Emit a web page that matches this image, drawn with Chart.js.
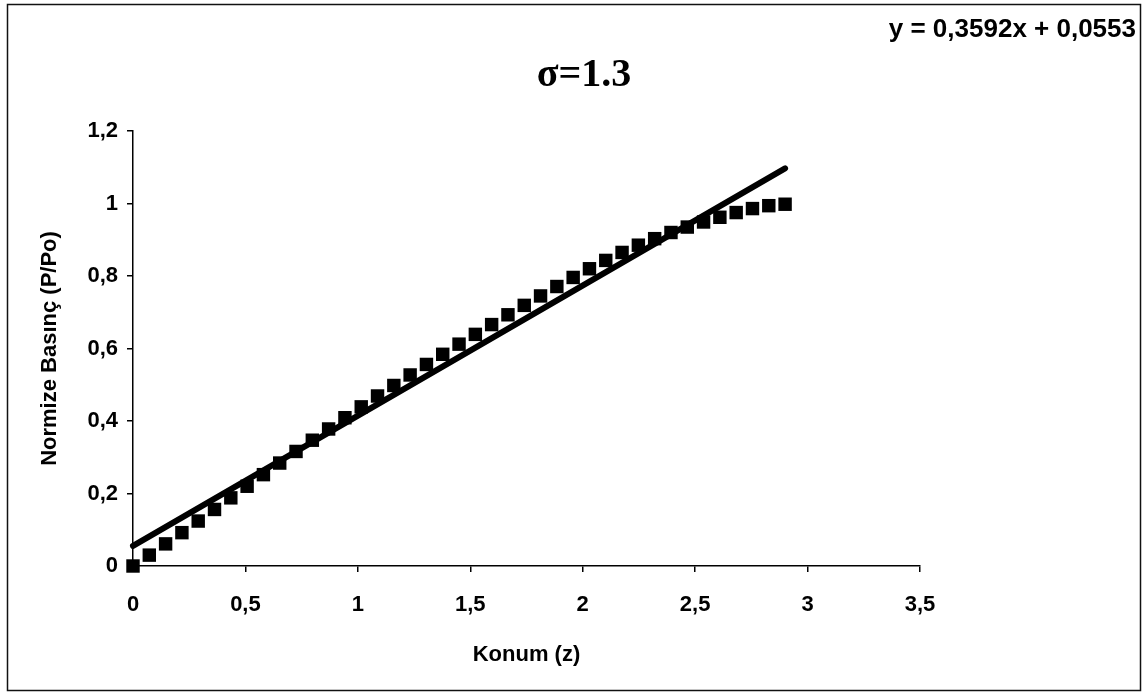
<!DOCTYPE html>
<html>
<head>
<meta charset="utf-8">
<script src="https://cdn.jsdelivr.net/npm/chart.js@4.4.1/dist/chart.umd.min.js"></script>
<style>
  html, body { margin: 0; padding: 0; background: #fff; }
  #wrap { width: 1147px; height: 698px; position: relative; }
</style>
</head>
<body>
<div id="wrap"><canvas id="c" width="1147" height="698"></canvas></div>
<script>
// ---- data ----
const chartTitle = 'σ=1.3';
const xAxisTitle = 'Konum (z)';
const yAxisTitle = 'Normize Basınç (P/Po)';
const konum = [0, 0.0725, 0.145, 0.2175, 0.29, 0.3625, 0.435, 0.5075, 0.58, 0.6525,
  0.725, 0.7975, 0.87, 0.9425, 1.015, 1.0875, 1.16, 1.2325, 1.305, 1.3775,
  1.45, 1.5225, 1.595, 1.6675, 1.74, 1.8125, 1.885, 1.9575, 2.03, 2.1025,
  2.175, 2.2475, 2.32, 2.3925, 2.465, 2.5375, 2.61, 2.6825, 2.755, 2.8275, 2.9];
const basinc = [0, 0.030, 0.061, 0.092, 0.124, 0.156, 0.188, 0.220, 0.252, 0.284,
  0.316, 0.347, 0.378, 0.409, 0.439, 0.469, 0.498, 0.527, 0.556, 0.584,
  0.612, 0.639, 0.666, 0.693, 0.719, 0.745, 0.771, 0.796, 0.820, 0.843,
  0.865, 0.885, 0.903, 0.920, 0.935, 0.949, 0.962, 0.975, 0.986, 0.994, 0.998];
const trendSlope = 0.3592;
const trendIntercept = 0.0553;
const trendRange = [0, 2.9];
const trendLabel = 'y = 0,3592x + 0,0553';
const xTickLabels = ['0', '0,5', '1', '1,5', '2', '2,5', '3', '3,5'];
const yTickLabels = ['0', '0,2', '0,4', '0,6', '0,8', '1', '1,2'];

const points = konum.map((x, i) => ({ x: x, y: basinc[i] }));
const trend = trendRange.map(x => ({ x: x, y: trendSlope * x + trendIntercept }));

const SANS = '"Liberation Sans", Arial, sans-serif';

const decor = {
  id: 'decor',
  beforeDraw(chart) {
    const ctx = chart.ctx;
    ctx.save();
    ctx.fillStyle = '#fff';
    ctx.fillRect(0, 0, chart.width, chart.height);
    ctx.strokeStyle = '#111';
    ctx.lineWidth = 1.5;
    ctx.strokeRect(7.5, 4.5, 1133, 686);
    ctx.restore();
  },
  afterDraw(chart) {
    const ctx = chart.ctx;
    ctx.save();
    ctx.fillStyle = '#000';
    ctx.textBaseline = 'middle';
    ctx.textAlign = 'center';
    ctx.font = 'bold 40px "Liberation Serif", "Times New Roman", serif';
    ctx.fillText(chartTitle, 584, 76);
    ctx.textAlign = 'right';
    ctx.font = 'bold 26px ' + SANS;
    ctx.fillText(trendLabel, 1136, 30);
    ctx.restore();
  }
};

new Chart(document.getElementById('c'), {
  type: 'scatter',
  data: {
    datasets: [
      {
        label: 'trend',
        data: trend,
        showLine: true,
        borderColor: '#000',
        borderWidth: 6,
        borderCapStyle: 'round',
        pointRadius: 0,
        clip: false,
        order: 0
      },
      {
        label: 'P/Po',
        data: points,
        pointStyle: 'rect',
        pointRadius: 9.5,
        pointBorderWidth: 0,
        backgroundColor: '#000',
        borderColor: '#000',
        clip: false,
        order: 1
      }
    ]
  },
  plugins: [decor],
  options: {
    responsive: false,
    animation: false,
    devicePixelRatio: 1,
    layout: { padding: { left: 8, right: 227, top: 131, bottom: 8 } },
    plugins: {
      legend: { display: false },
      tooltip: { enabled: false },
      title: { display: false }
    },
    scales: {
      x: {
        type: 'linear',
        min: 0, max: 3.5,
        afterFit(scale) { scale.height = 124; },
        border: { display: true, color: '#000', width: 1.5 },
        grid: { display: true, drawOnChartArea: false, drawTicks: true, tickLength: 6, color: '#000', lineWidth: 1.5 },
        ticks: {
          stepSize: 0.5,
          padding: 20,
          color: '#000',
          font: { family: SANS, size: 22, weight: 'bold' },
          callback: (v, i) => xTickLabels[i]
        },
        title: {
          display: true,
          text: xAxisTitle,
          color: '#000',
          font: { family: SANS, size: 22, weight: 'bold' },
          padding: { top: 0, bottom: 22 }
        }
      },
      y: {
        type: 'linear',
        min: 0, max: 1.2,
        afterFit(scale) { scale.width = 125; },
        border: { display: true, color: '#000', width: 1.5 },
        grid: { display: true, drawOnChartArea: false, drawTicks: true, tickLength: 6, color: '#000', lineWidth: 1.5 },
        ticks: {
          stepSize: 0.2,
          padding: 9,
          color: '#000',
          font: { family: SANS, size: 22, weight: 'bold' },
          callback: (v, i) => yTickLabels[i]
        },
        title: {
          display: true,
          text: yAxisTitle,
          color: '#000',
          font: { family: SANS, size: 22, weight: 'bold' },
          padding: { top: 29, bottom: 0 }
        }
      }
    }
  }
});
</script>
</body>
</html>
